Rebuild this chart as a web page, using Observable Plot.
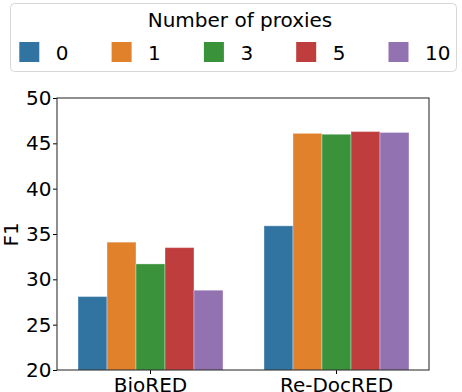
<!DOCTYPE html>
<html>
<head>
<meta charset="utf-8">
<script src="https://cdn.jsdelivr.net/npm/d3@7"></script>
<script src="https://cdn.jsdelivr.net/npm/@observablehq/plot@0.6"></script>
<style>
  html, body { margin: 0; padding: 0; background: white; }
  #wrap { position: relative; width: 462px; height: 392px; overflow: hidden; }
  #legend { position: absolute; left: 0; top: 0; pointer-events: none; }
</style>
</head>
<body>
<div id="wrap"></div>
<script>
const datasets = ["BioRED", "Re-DocRED"];
const proxies = ["0", "1", "3", "5", "10"];
const bioredF1 = [28.1, 34.1, 31.7, 33.5, 28.8];
const redocredF1 = [35.9, 46.1, 46.0, 46.3, 46.2];
const yTicks = [20, 25, 30, 35, 40, 45, 50];
const colors = ["#3274a1", "#e1812c", "#3a923a", "#c03d3e", "#9372b2"];
const legendTitle = "Number of proxies";

const rows = [];
proxies.forEach((p, i) => rows.push({dataset: datasets[0], proxy: p, f1: bioredF1[i]}));
proxies.forEach((p, i) => rows.push({dataset: datasets[1], proxy: p, f1: redocredF1[i]}));

const W = 462, H = 392, mL = 57, mR = 33, mT = 98, mB = 22;

const plot = Plot.plot({
  width: W, height: H,
  marginTop: mT, marginBottom: mB, marginLeft: mL, marginRight: mR,
  style: {fontFamily: "DejaVu Sans", fontSize: "20px", color: "black", background: "white"},
  fx: {domain: datasets, padding: 0, axis: "bottom", label: null, tickSize: 4, tickPadding: 3},
  x: {domain: proxies, axis: null, paddingInner: 0, paddingOuter: 0.625},
  y: {domain: [20, 50], ticks: yTicks, tickSize: 4, tickPadding: 2, label: "F1", labelArrow: "none", labelAnchor: "center", labelOffset: 54},
  color: {domain: proxies, range: colors},
  marks: [
    Plot.barY(rows, {fx: "dataset", x: "proxy", y: "f1", fill: "proxy", clip: true,
      stroke: "white", strokeOpacity: 0.35, strokeWidth: 1})
  ]
});

const svg = d3.select(plot);
svg.append("rect")
  .attr("x", mL).attr("y", mT)
  .attr("width", W - mL - mR).attr("height", H - mT - mB)
  .attr("fill", "none").attr("stroke", "#333").attr("stroke-width", 1.1);

document.getElementById("wrap").appendChild(plot);

// Legend (HTML overlay above the plot area)
const color = plot.scale("color");
const lg = d3.select("#wrap").append("svg").attr("id", "legend")
  .attr("width", W).attr("height", 80)
  .style("font-family", "DejaVu Sans").style("font-size", "20px");
lg.append("rect").attr("x", 10.5).attr("y", 3.5).attr("width", 446).attr("height", 68)
  .attr("rx", 4).attr("fill", "white").attr("stroke", "#d8d8d8").attr("stroke-width", 1);
lg.append("text").attr("x", 240).attr("y", 27).attr("text-anchor", "middle")
  .attr("fill", "black").text(legendTitle);
const step = 92.3, x0 = 19.3;
proxies.forEach((p, i) => {
  const sx = x0 + i * step;
  lg.append("rect").attr("x", sx).attr("y", 42).attr("width", 20).attr("height", 20)
    .attr("fill", color.apply(p));
  lg.append("text").attr("x", sx + 36.5).attr("y", 60).attr("fill", "black").text(p);
});
</script>
</body>
</html>
